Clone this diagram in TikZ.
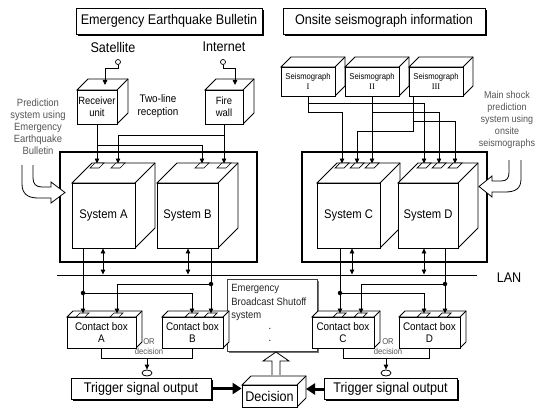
\documentclass[tikz,border=0pt]{standalone}
\usepackage{fontspec}
\setmainfont{Liberation Sans}[FakeStretch=0.9]
\newfontfamily\romfont{Liberation Serif}
\usetikzlibrary{arrows.meta,shadows,shapes.geometric}
\definecolor{txtgray}{RGB}{85,85,85}
\tikzset{
  fT/.style={font=\fontsize{14}{16}\selectfont},
  fA/.style={font=\fontsize{14}{16}\selectfont},
  fB/.style={font=\fontsize{12.5}{14}\selectfont},
  fC/.style={font=\fontsize{11}{12.5}\selectfont},
  fD/.style={font=\fontsize{10.5}{12}\selectfont},
  fS/.style={font=\fontsize{10}{12}\selectfont},
  fE/.style={font=\fontsize{8.5}{9.5}\selectfont},
  arr/.style={-{Triangle[length=5pt,width=4.5pt]}},
  darr/.style={{Triangle[length=5pt,width=4.5pt]}-{Triangle[length=5pt,width=4.5pt]}},
  titlebox/.style={draw, fill=white, inner sep=0pt, line width=0.8pt,
    drop shadow={shadow xshift=1.6pt, shadow yshift=-1.6pt, opacity=1, fill=black}},
  framebox/.style={draw, line width=1.1pt, inner sep=0pt},
  face/.style={draw, fill=white, inner sep=0pt, align=center},
  hollow/.style={draw, fill=white, line width=0.8pt, line join=miter},
  graylabel/.style={text=txtgray, align=center, inner sep=0pt},
  dot/.style={circle, fill=black, inner sep=0pt, minimum size=4.5pt},
  antenna/.style={circle, draw, fill=white, inner sep=0pt, minimum size=5pt, line width=0.7pt},
  orend/.style={ellipse, draw, inner sep=0pt, minimum width=10pt, minimum height=6pt, line width=0.8pt},
}
% cube: name, x1, y1(top), x2, y2(bottom), depth, style, text
\newcommand\mycube[8]{%
  \filldraw[fill=white] (#2,#3) -- ++(#6,-#6) -- ({#4+#6},{#3-#6}) -- ({#4+#6},{#5-#6}) -- (#4,#5) -- (#4,#3) -- cycle;
  \draw (#4,#3) -- ++(#6,-#6);
  \node[face,#7,minimum width={(#4-#2)*1pt},minimum height={(#5-#3)*1pt}] (#1) at ({(#2+#4)/2},{(#3+#5)/2}) {#8};
}
% pad: x centre, bottom y, height
\newcommand\mypad[3]{%
  \filldraw[fill=white,line width=0.7pt] ({#1-7},#2) -- ({#1+2},#2) -- ({#1+2+#3},{#2-#3}) -- ({#1-7+#3},{#2-#3}) -- cycle;}
\begin{document}
\begin{tikzpicture}[x=1pt,y=-1pt,line width=0.8pt]
\useasboundingbox (0,0) rectangle (535,409);
\fill[white] (0,0) rectangle (535,409);

% ---------- titles ----------
\node[titlebox,fT,minimum width=186pt,minimum height=26pt] (t1) at (169,21) {Emergency Earthquake Bulletin};
\node[titlebox,fT,minimum width=202pt,minimum height=26pt] (t2) at (384,21) {Onsite seismograph information};

\node[fA,inner sep=0pt] (sat) at (113,47) {Satellite};
\node[fA,inner sep=0pt] (net) at (224,47) {Internet};
\node[antenna] (ant1) at (118,62) {};
\node[antenna] (ant2) at (223,62) {};

% ---------- receiver / firewall ----------
\mycube{recv}{77}{90}{117}{124}{11}{fD}{Receiver\\unit}
\mycube{fw}{205}{90}{243}{124}{11}{fD}{Fire\\wall}
\coordinate (rin) at (105,85);
\coordinate (fin) at (235,85);
\draw[arr] (ant1.south) -- (ant1.south |- 0,68) -| (rin);
\draw[arr] (ant2.south) -- (ant2.south |- 0,68) -| (fin);
\node[fC,align=center,inner sep=0pt] (twoline) at (158,106) {Two-line\\reception};

% side texts
\node[graylabel,fD] (ltext) at (38,127) {Prediction\\system using\\Emergency\\Earthquake\\Bulletin};
\node[graylabel,fS,anchor=north] (rtext) at (507,91) {Main shock\\prediction\\system using\\onsite\\seismographs};

% ---------- frames ----------
\node[framebox,minimum width=197pt,minimum height=110pt] (fl) at (158.5,207) {};
\node[framebox,minimum width=185pt,minimum height=110pt] (fr) at (394.5,207) {};

% ---------- systems ----------
\mycube{sA}{72}{183}{135}{248}{20}{fB}{System A}
\mycube{sB}{157}{183}{218}{248}{20}{fB}{System B}
\mycube{sC}{317}{183}{380}{248}{20}{fB}{System C}
\mycube{sD}{398}{183}{458}{248}{20}{fB}{System D}

\mypad{97}{168}{5}\mypad{118}{168}{5}\mypad{202}{168}{5}\mypad{224}{168}{5}
\mypad{342}{168}{5}\mypad{357}{168}{5}\mypad{372}{168}{5}
\mypad{424}{168}{5}\mypad{439}{168}{5}\mypad{455}{168}{5}

\coordinate (pA1) at (97,163.5);  \coordinate (pA2) at (118,163.5);
\coordinate (pB1) at (202,163.5); \coordinate (pB2) at (224,163.5);
\coordinate (pC1) at (342,163.5); \coordinate (pC2) at (357,163.5); \coordinate (pC3) at (372,163.5);
\coordinate (pD1) at (424,163.5); \coordinate (pD2) at (439,163.5); \coordinate (pD3) at (455,163.5);

\draw[arr] (recv.south) -- (pA1);
\draw[arr] (recv.south |- 0,145) -| (pB1);
\draw[arr] (fw.south) -- (pB2);
\draw[arr] (fw.south |- 0,135) -| (pA2);

% ---------- seismographs ----------
\mycube{s1}{281}{67}{335}{96}{10}{fE}{Seismograph\\{\romfont I}}
\mycube{s2}{345}{67}{399}{96}{10}{fE}{Seismograph\\{\romfont II}}
\mycube{s3}{409}{67}{463}{96}{10}{fE}{Seismograph\\{\romfont III}}
\coordinate (s3w) at (413,96);
\draw[arr] (s1.south) -- (s1.south |- 0,112) -| (pC1);
\draw[arr] (s1.south |- 0,103) -| (pD1);
\draw[arr] (s2.south) -- (pC3);
\draw[arr] (s2.south |- 0,112) -| (pD2);
\draw[arr] (s3w) -- (s3w |- 0,131) -| (pC2);
\draw[arr] (s3w |- 0,121) -| (pD3);

% ---------- curved hollow arrows ----------
\draw[hollow] (22,165) -- (22,184) .. controls (22,194) and (28,198) .. (38,198) -- (51,198) -- (51,203) -- (65,192.5) -- (51,182) -- (51,187) -- (42,187) .. controls (36,187) and (33,184) .. (33,178) -- (33,165);
\draw[hollow] (521,160) -- (521,179) .. controls (521,189) and (515,192) .. (505,192) -- (492,192) -- (492,197) -- (479,186.5) -- (492,176) -- (492,181) -- (501,181) .. controls (507,181) and (509,178) .. (509,172) -- (509,160);

% ---------- LAN ----------
\coordinate (lanL) at (57,276.5);
\coordinate (lanR) at (477,276.5);
\draw[double, double distance=2pt, line width=0.8pt] (lanL) -- (lanR);
\node[fA,inner sep=0pt] (lan) at (509,278) {LAN};

% ---------- emergency broadcast box ----------
\node[draw=black!75,fill=white,minimum width=90pt,minimum height=72pt,inner sep=0pt,
  drop shadow={shadow xshift=1.5pt, shadow yshift=-1.5pt, opacity=1, fill=black!55}] (eb) at (272,315) {};
\node[font=\fontsize{10.5}{13.5}\selectfont,anchor=north west,align=left,inner sep=0pt,text=black!85] (ebtext) at (231,284) {Emergency\\Broadcast Shutoff\\system};
\node[fD,inner sep=0pt] (ebd1) at (270,329) {.};
\node[fD,inner sep=0pt] (ebd2) at (270,341) {.};

% ---------- double arrows ----------
\coordinate (dA) at (103,274.5); \coordinate (dB) at (188,274.5);
\coordinate (dC) at (352,274.5); \coordinate (dD) at (424,274.5);
\draw[darr] (sA.south -| dA) -- (dA);
\draw[darr] (sB.south -| dB) -- (dB);
\draw[darr] (sC.south -| dC) -- (dC);
\draw[darr] (sD.south -| dD) -- (dD);

% ---------- contact boxes ----------
\mycube{cA}{67}{317}{136}{348}{6}{fC}{Contact box\\A}
\mycube{cB}{162}{317}{223}{348}{6}{fC}{Contact box\\B}
\mycube{cC}{312}{317}{374}{348}{6}{fC}{Contact box\\C}
\mycube{cD}{399}{317}{460}{348}{6}{fC}{Contact box\\D}
\mypad{83}{317}{4}\mypad{117}{317}{4}\mypad{192}{317}{4}\mypad{211}{317}{4}
\mypad{340}{317}{4}\mypad{361}{317}{4}\mypad{424}{317}{4}\mypad{445}{317}{4}

\coordinate (qA1) at (83,313.5);  \coordinate (qA2) at (117,313.5);
\coordinate (qB1) at (192,313.5); \coordinate (qB2) at (211,313.5);
\coordinate (qC1) at (340,313.5); \coordinate (qC2) at (361,313.5);
\coordinate (qD1) at (424,313.5); \coordinate (qD2) at (445,313.5);

\draw[arr] (sA.south -| qA1) -- (qA1);
\node[dot] (jA) at (83,293) {};
\draw[arr] (jA.center) -| (qB1);
\draw[arr] (sB.south -| qB2) -- (qB2);
\node[dot] (jB) at (211,284) {};
\draw[arr] (jB.center) -| (qA2);

\draw[arr] (sC.south -| qC1) -- (qC1);
\node[dot] (jC) at (340,293) {};
\draw[arr] (jC.center) -| (qD1);
\draw[arr] (sD.south -| qD2) -- (qD2);
\node[dot] (jD) at (445,284) {};
\draw[arr] (jD.center) -| (qC2);

% ---------- OR decisions ----------
\coordinate (orL) at (147,358);
\coordinate (orR) at (386,358);
\draw (cA.south) -- (cA.south |- orL) -- (cB.south |- orL) -- (cB.south);
\draw (cC.south) -- (cC.south |- orR) -- (cD.south |- orR) -- (cD.south);
\node[orend] (eL) at (147,373) {};
\node[orend] (eR) at (386,373) {};
\draw[arr] (orL) -- (eL.north);
\draw[arr] (orR) -- (eR.north);
\node[graylabel,fE] (orL1) at (149,341.5) {OR};
\node[graylabel,fE] (orL2) at (149,351.5) {decision};
\node[graylabel,fE] (orR1) at (388,341.5) {OR};
\node[graylabel,fE] (orR2) at (388,351.5) {decision};

% ---------- trigger / decision ----------
\node[titlebox,fT,minimum width=140pt,minimum height=21pt] (trL) at (141,388.5) {Trigger signal output};
\node[titlebox,fT,minimum width=133pt,minimum height=21pt] (trR) at (390.5,389) {Trigger signal output};
\mycube{dec}{242}{385}{297}{407}{9}{fA}{Decision}
\coordinate (decR) at (306,389);
\draw[line width=3pt,-{Triangle[length=9pt,width=11pt]}] (trL.east) -- (trL.east -| dec.west);
\draw[line width=3pt,-{Triangle[length=9pt,width=11pt]}] (trR.west) -- (decR);

% hollow up arrow
\draw[hollow] (272,375) -- (272,361) -- (263,361) -- (276,352) -- (289,361) -- (280,361) -- (280,375);
\end{tikzpicture}
\end{document}
